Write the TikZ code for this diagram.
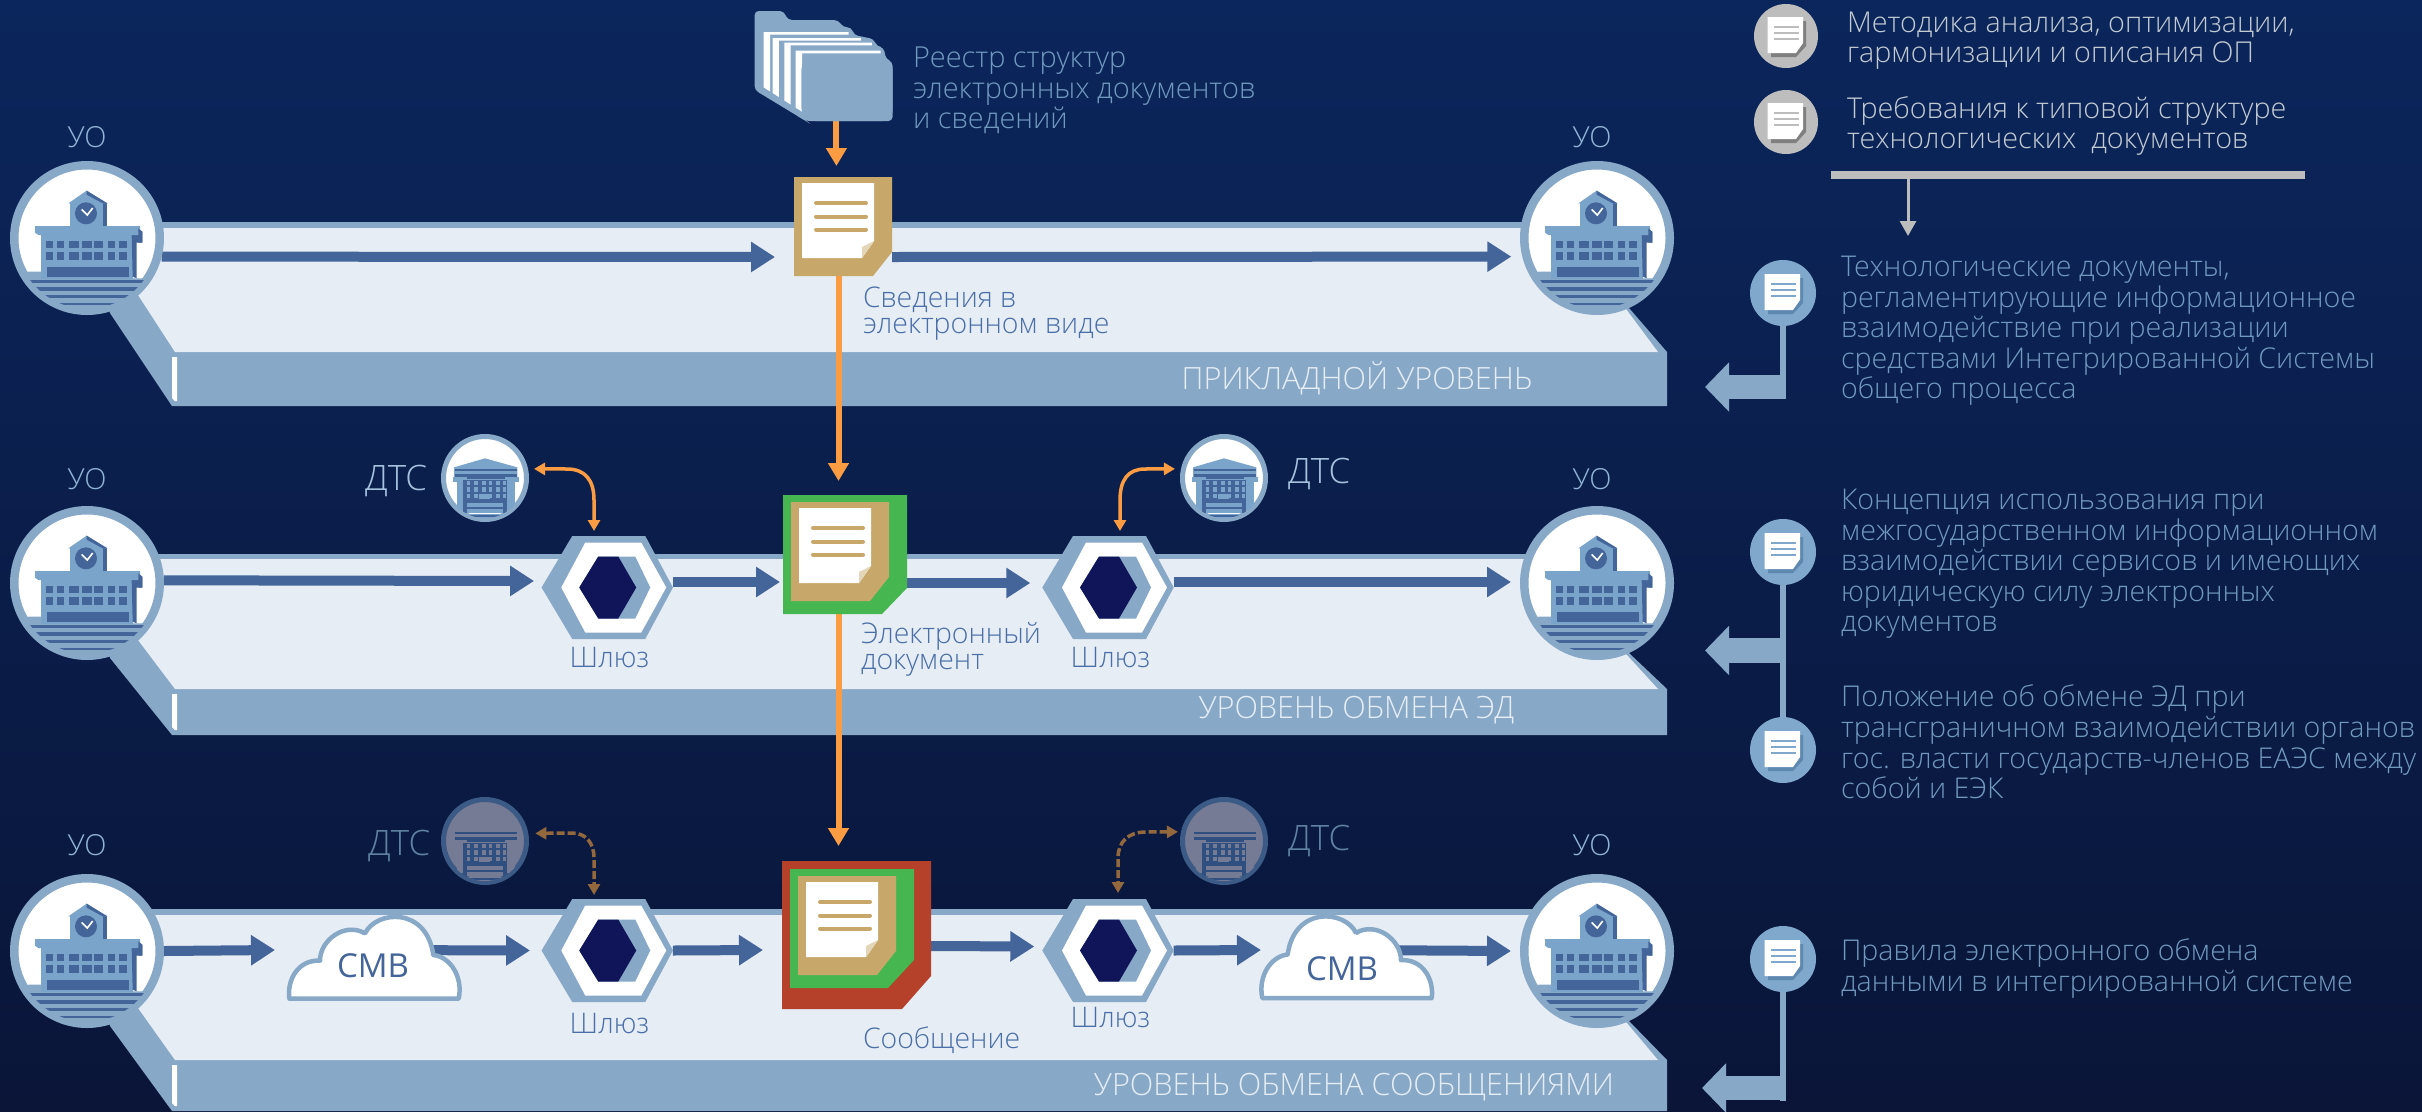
\documentclass[tikz,border=0pt]{standalone}
\usepackage{fontspec}
\setmainfont{Open Sans Light}
\newfontfamily\regfont{Open Sans}
\usetikzlibrary{arrows.meta,calc}
\pgfdeclarelayer{plat}
\pgfdeclarelayer{conn}
\pgfsetlayers{plat,conn,main}
\definecolor{bgtop}{RGB}{11,38,92}
\definecolor{bgmid}{RGB}{11,34,82}
\definecolor{bgbot}{RGB}{10,21,56}
\definecolor{bandc}{HTML}{87A8C7}
\definecolor{lightc}{HTML}{E6EDF4}
\definecolor{medc}{HTML}{7BA4CB}
\definecolor{darkc}{HTML}{44659A}
\definecolor{orangec}{HTML}{FB9C42}
\definecolor{brownc}{HTML}{93683C}
\definecolor{tanc}{HTML}{C7A86A}
\definecolor{foldc}{HTML}{E3D6B8}
\definecolor{greenc}{HTML}{45B650}
\definecolor{redc}{HTML}{B5412A}
\definecolor{hexdark}{HTML}{10155A}
\definecolor{grayc}{HTML}{BDBDBD}
\definecolor{grayd}{HTML}{7F7F7F}
\definecolor{bluec}{HTML}{7FA8CC}
\definecolor{blued}{HTML}{5E88B0}
\definecolor{labelc}{HTML}{4A6FA8}
\definecolor{uoc}{HTML}{8FB4D4}
\definecolor{colc}{HTML}{7099BE}
\definecolor{topc}{HTML}{C3CBD2}
\definecolor{dtsdimring}{HTML}{3B5A85}
\definecolor{dtsdimfill}{HTML}{757A95}
\definecolor{dtsdimbody}{HTML}{2F4F80}
\tikzset{
  x=1pt,y=-1pt,
  txt/.style={inner sep=0,outer sep=0,align=left},
  coltext/.style={txt,anchor=north west,text=colc,font=\fontsize{28.6}{30.6}\selectfont},
  toptext/.style={txt,anchor=north west,text=topc,font=\fontsize{28.7}{30}\selectfont},
  lab/.style={txt,text=labelc,font=\fontsize{28.4}{26}\selectfont},
  uolab/.style={txt,anchor=base,text=uoc,font=\fontsize{29}{30}\selectfont},
  bandlab/.style={txt,anchor=base,text=lightc,font=\fontsize{30.7}{30}\selectfont},
  dtslab/.style={txt,anchor=base west,font=\fontsize{35}{36}\selectfont},
  orgnode/.style={circle,draw=bandc,fill=white,line width=8.5pt,minimum size=145.5pt,inner sep=0},
  dtsnode/.style={circle,draw=bandc,fill=white,line width=5pt,minimum size=83pt,inner sep=0},
  dtsdim/.style={circle,draw=dtsdimring,fill=dtsdimfill,line width=5pt,minimum size=83pt,inner sep=0},
  boxnode/.style={inner sep=0,outer sep=0},
  gatebox/.style={boxnode,minimum width=131.4pt,minimum height=103pt},
  flow/.style={draw=darkc,line width=10pt,-{Triangle[length=24pt,width=29pt]}},
  orangeflow/.style={draw=orangec,line width=6pt,-{Triangle[length=18pt,width=20pt]}},
  linkb/.style={draw=orangec,line width=3.5pt,{Triangle[length=11pt,width=12pt]}-{Triangle[length=11pt,width=12pt]}},
  linkd/.style={draw=brownc,line width=3.5pt,dash pattern=on 8pt off 3pt,{Triangle[length=11pt,width=12pt]}-{Triangle[length=11pt,width=12pt]}},
  graycirc/.style={circle,fill=grayc,minimum size=64pt,inner sep=0,outer sep=0},
  bluecirc/.style={circle,fill=bluec,minimum size=66pt,inner sep=0,outer sep=0},
  stem/.style={draw=bandc,line width=5.5pt},
  blockarr/.style={draw=bandc,line width=24.5pt,-{Triangle[length=24pt,width=48pt]}},
}
\newcommand{\platformshape}[5]{% cy rimtop rimbot bandtop bandbot
  \fill[bandc] (87,#2) -- (1597,#2) -- (1629,{#1+70}) -- (1667,#4) -- (1667,#5) -- (172,#5) -- (110,{#1+75}) -- cycle;
  \fill[lightc] (100,#3) -- (1597,#3) -- (1626,{#1+71}) -- (1658,#4) -- (175,#4) -- (138,{#1+57}) -- cycle;
  \fill[white] (172,{#4+5}) -- (177,{#4+5}) -- (177,{#5-5}) -- (175,{#5-5}) -- (172,{#5-8}) -- cycle;
}
\newcommand{\orgicon}[1]{%
  \begin{scope}[shift={(#1)},scale=0.33333,shift={(-201,-174)}]
    \clip (201,174) circle [radius=212pt];
    \fill[bandc] (25,275) -- (70,275) -- (70,295) -- (400,295) -- (400,420) -- (0,420) -- (0,295) -- cycle;
    \foreach \yy/\hh in {300/10,322/10,345/8,368/8}{\fill[darkc] (30,\yy) rectangle (372,\yy+\hh);}
    \fill[medc] (62,165) rectangle (340,298);
    \fill[darkc] (335,165) -- (355,165) -- (367,155) -- (367,188) -- (350,188) -- (350,295) -- (338,290) -- cycle;
    \fill[medc] (45,138) -- (360,138) -- (360,165) -- (55,165) -- (45,158) -- cycle;
    \fill[darkc] (355,145) -- (367,155) -- (367,188) -- (355,188) -- cycle;
    \fill[medc] (150,70) rectangle (250,138);
    \fill[darkc] (248,70) rectangle (262,138);
    \fill[medc] (145,70) -- (200,32) -- (262,70) -- cycle;
    \fill[darkc] (200,32) -- (262,70) -- (248,70) -- (200,44) -- cycle;
    \fill[darkc] (198,100) circle [radius=33pt];
    \draw[white,line width=1.6pt] (185,88) -- (202,105) -- (218,84);
    \foreach \yy in {183,217}{\foreach \xa/\xb in {78/100,112/132,148/178,186/216,222/248,263/285,298/322}{\fill[darkc] (\xa,\yy) rectangle (\xb,\yy+22);}}
    \fill[darkc] (80,260) rectangle (328,290);
  \end{scope}}
\newcommand{\dtsicon}[3]{% node, body, detail-contrast
  \begin{scope}[shift={(#1)},scale=0.33333,shift={(-135,-144)}]
    \clip (135,144) circle [radius=120pt];
    \fill[#2] (135,85) -- (232,112) -- (232,150) -- (42,150) -- (42,112) -- cycle;
    \fill[#3] (45,118) rectangle (232,124);
    \fill[#3] (45,132) rectangle (232,148);
    \fill[#2] (40,140) rectangle (80,155);
    \fill[#2] (195,140) rectangle (236,155);
    \fill[#2] (50,155) rectangle (72,240);
    \fill[#2] (200,155) rectangle (226,240);
    \fill[#3] (70,150) rectangle (202,250);
    \foreach \yy in {152,172,192}{\foreach \xx in {80,103,126,146,168,188}{\fill[#2] (\xx,\yy) rectangle (\xx+11,\yy+13);}}
    \fill[#2] (118,192) rectangle (150,207);
    \fill[#2] (82,218) rectangle (190,232);
    \fill[#2] (82,237) rectangle (190,248);
    \fill[#2] (40,252) rectangle (235,300);
    \fill[#3] (60,256) rectangle (210,262);
  \end{scope}}
\newcommand{\cloudshape}[2]{% node, xscale
  \begin{scope}[shift={(#1)},xscale=#2,yscale=0.33333,shift={(-312,-172.5)}]
    \draw[draw=bandc,fill=white,line width=4.5pt,line join=round]
      (58,296) .. controls (50,240) and (85,178) .. (150,182)
      .. controls (150,120) and (225,65) .. (285,100)
      .. controls (320,30) and (470,20) .. (490,165)
      .. controls (540,170) and (580,230) .. (566,296) -- cycle;
  \end{scope}}
\newcommand{\gatehex}[1]{%
  \begin{scope}[shift={(#1)}]
    \fill[bandc] (-65.7,0) -- (-35,-51.5) -- (38,-51.5) -- (65.7,0) -- (38,51.5) -- (-35,51.5) -- cycle;
    \fill[white] (-46,0) -- (-22,-45) -- (34,-45) -- (59,0) -- (34,45) -- (-22,45) -- cycle;
    \fill[bandc] (-28,0) -- (-9,-31) -- (28,-31) -- (43,0) -- (28,31) -- (-9,31) -- cycle;
    \fill[hexdark] (-28,0) -- (-9,-31) -- (11,-31) -- (29,0) -- (11,31) -- (-9,31) -- cycle;
  \end{scope}}
\newcommand{\docpage}[2]{% x0 y0 top-left of tan
  \begin{scope}[shift={(#1,#2)}]
    \fill[tanc] (0,0) -- (98,0) -- (98,75) -- (79,99) -- (0,99) -- cycle;
    \fill[white] (8,6) -- (80,6) -- (80,64) -- (68,81) -- (8,81) -- cycle;
    \fill[foldc] (80,64) -- (68,81) -- (68,70) -- cycle;
    \foreach \yy in {26,39.5,52.5}{\draw[tanc,line width=4pt,line cap=round] (22,\yy) -- (72,\yy);}
  \end{scope}}
\newcommand{\smallpage}[3]{% node, shadow, lines
  \begin{scope}[shift={(#1)}]
    \fill[#2] (-15,-15) -- (20,-15) -- (20,10) -- (10,21) -- (-15,21) -- cycle;
    \fill[white] (-18.5,-19) -- (17,-19) -- (17,7) -- (10,17) -- (-18.5,17) -- cycle;
    \foreach \yy in {-9,-3,3}{\draw[#3,line width=2.5pt] (-12,\yy) -- (13,\yy);}
  \end{scope}}
\begin{document}
\begin{tikzpicture}
\useasboundingbox (0,0) rectangle (2422,1111);
\begin{pgfonlayer}{plat}
  \shade[top color=bgtop,middle color=bgmid,bottom color=bgbot] (0,0) rectangle (2422,1111);
  \platformshape{238}{222}{228}{352}{406}
  \platformshape{583}{554}{559}{689}{735}
  \platformshape{951}{909}{915}{1060}{1111}
\end{pgfonlayer}

% folder
\begin{scope}[shift={(720,0)},xscale=0.35714,yscale=0.33333]
  \fill[bandc,rounded corners=4pt] (97,33) -- (178,33) -- (190,60) -- (330,60) -- (345,82) -- (368,82) -- (375,105) -- (430,117) -- (440,140) -- (458,142) -- (465,178) -- (483,185) -- (483,363) -- (240,363) -- (97,270) -- cycle;
  \foreach \xx/\yy/\xr in {122/96/360,147/114/395,180/128/425,212/152/450}{
    \fill[white] (\xx,\yy) -- (\xr,\yy) -- (\xr,\yy+8) -- (\xx+18,\yy+8) -- ({\xx+18},{262+(\xx+18-122)*0.68}) -- ({\xx},{262+(\xx-122)*0.68}) -- cycle;}
  \fill[bandc,rounded corners=10pt] (228,178) -- (483,178) -- (483,363) -- (240,363) -- (228,355) -- cycle;
\end{scope}
\node[boxnode,minimum width=137pt,minimum height=110pt] (folder) at (824,66) {};

% document nodes
\docpage{794}{177}
\node[boxnode,minimum width=98pt,minimum height=99pt] (doc1) at (843,226.5) {};
\fill[greenc] (783,495) -- (907,495) -- (907,588) -- (882,614) -- (783,614) -- cycle;
\docpage{791}{502}
\node[boxnode,minimum width=124pt,minimum height=119pt] (doc2) at (845,554.5) {};
\fill[redc] (782,861) -- (931,861) -- (931,976) -- (902,1009) -- (782,1009) -- cycle;
\fill[greenc] (790,869) -- (914,869) -- (914,960) -- (888,988) -- (790,988) -- cycle;
\docpage{798}{876}
\node[boxnode,minimum width=149pt,minimum height=148pt] (doc3) at (856.5,935) {};

% org nodes
\foreach \nm/\xx/\yy in {uoLa/87/238,uoRa/1597/238,uoLb/87/583,uoRb/1597/583,uoLc/87/951,uoRc/1597/951}{
  \node[orgnode] (\nm) at (\xx,\yy) {};
  \orgicon{\nm}
}
% dts nodes
\node[dtsnode] (dtsba) at (485,478) {}; \dtsicon{dtsba}{medc}{darkc}
\node[dtsnode] (dtsbb) at (1224,478) {}; \dtsicon{dtsbb}{medc}{darkc}
\node[dtsdim] (dtsca) at (485,841) {}; \dtsicon{dtsca}{dtsdimfill}{dtsdimbody}
\node[dtsdim] (dtscb) at (1224,841) {}; \dtsicon{dtscb}{dtsdimfill}{dtsdimbody}

% gateways
\foreach \nm/\xx/\yy in {gba/607.25/587.5,gbb/1108/587.5,gca/607.25/950.5,gcb/1108/950.5}{
  \node[gatebox] (\nm) at (\xx,\yy) {};
  \gatehex{\nm}
}
% clouds
\node[boxnode,minimum width=172pt,minimum height=85pt] (cloudA) at (374,957.5) {};
\cloudshape{cloudA}{0.33333}
\node[boxnode,minimum width=172pt,minimum height=87pt] (cloudB) at (1347,957) {};
\cloudshape{cloudB}{-0.33333}
\node[txt,anchor=base,text=darkc,font=\regfont\fontsize{33}{33}\selectfont] (cmvA) at (373,977) {СМВ};
\node[txt,anchor=base,text=darkc,font=\regfont\fontsize{33}{33}\selectfont] (cmvB) at (1342,980) {СМВ};

% connectors
\coordinate (tipA) at (836.4,166);
\coordinate (tipB) at (838.5,481);
\coordinate (tipC) at (838.5,846);
\coordinate (barTip) at (1908,236);
\begin{pgfonlayer}{conn}
  \draw[orangeflow] (tipA |- folder.south) -- (tipA);
  \draw[orangeflow] (tipB |- doc1.south) -- (tipB);
  \draw[orangeflow] (tipC |- doc2.south) -- (tipC);
  % level 1
  \draw[flow] (uoLa.-14) -- ([xshift=-19pt,yshift=-30.5pt]doc1.west);
  \draw[flow] ([yshift=-30.5pt]doc1.east) -- ([xshift=-11pt]uoRa.194);
  % level 2
  \draw[flow] (uoLb.2) -- ([xshift=-7.5pt,yshift=6.5pt]gba.west);
  \draw[flow] ([yshift=5.5pt]gba.east) -- ([xshift=-3pt,yshift=-27.5pt]doc2.west);
  \draw[flow] ([yshift=-28.5pt]doc2.east) -- ([xshift=-12pt,yshift=4.5pt]gbb.west);
  \draw[flow] ([yshift=5.5pt]gbb.east) -- ([xshift=-9pt,yshift=1pt]uoRb.west);
  % level 3
  \draw[flow] (uoLc.east) -- ([xshift=-13pt,yshift=1pt]cloudA.west |- uoLc.east);
  \draw[flow] ([yshift=7.5pt]cloudA.center) -- ([xshift=-11.5pt]gca.west);
  \draw[flow] (gca.east) -- ([xshift=-19pt,yshift=-15pt]doc3.west);
  \draw[flow] ([yshift=-11pt]doc3.east) -- ([xshift=-8pt,yshift=4pt]gcb.west);
  \draw[flow] (gcb.east) -- ([yshift=7pt]cloudB.west);
  \draw[flow] ([yshift=7pt]cloudB.center) -- ([xshift=-9pt]uoRc.west);
  % DTS links
  \draw[linkb] ([xshift=6pt]dtsba.12) -- (567,469) .. controls (585,469) and (594,480) .. (594,500) -- ([xshift=-13.25pt,yshift=5pt]gba.north);
  \draw[linkb] ([xshift=-6pt]dtsbb.168) -- (1145,469) .. controls (1128,469) and (1120,480) .. (1120,500) -- ([xshift=12pt,yshift=5pt]gbb.north);
  \draw[linkd] ([xshift=7pt]dtsca.10.5) -- (572,833) .. controls (585,833) and (594,842) .. (594,858) -- ([xshift=-13.25pt,yshift=4pt]gca.north);
  \draw[linkd] ([xshift=-3pt]dtscb.168) -- (1146,832) .. controls (1128,832) and (1118,842) .. (1118,858) -- ([xshift=10pt,yshift=6pt]gcb.north);
\end{pgfonlayer}

% labels
\node[coltext,font=\fontsize{28.9}{30.6}\selectfont] (reestr) at (913,47) {Реестр структур\\электронных документов\\и сведений};
\node[lab,anchor=north west] (sved) at (863,287) {Сведения в\\электронном виде};
\node[lab,anchor=north west] (elec) at (861,622) {Электронный\\документ};
\node[lab,anchor=base west] (soob) at (863,1048) {Сообщение};
\node[lab,anchor=base] (shba) at (609.5,667) {Шлюз};
\node[lab,anchor=base] (shbb) at (1110.5,667) {Шлюз};
\node[lab,anchor=base] (shca) at (609.5,1033) {Шлюз};
\node[lab,anchor=base] (shcb) at (1110.5,1027) {Шлюз};
\node[uolab] (uola) at (87,147) {УО};
\node[uolab] (uora) at (1592,147) {УО};
\node[uolab] (uolb) at (87,489) {УО};
\node[uolab] (uorb) at (1592,489) {УО};
\node[uolab] (uolc) at (87,855) {УО};
\node[uolab] (uorc) at (1592,855) {УО};
\node[dtslab,text=uoc!80!white] (dlb) at (365,490) {ДТС};
\node[dtslab,text=uoc!80!white] (drb) at (1288,483) {ДТС};
\node[dtslab,text=colc!85!black] (dlc) at (368,855) {ДТС};
\node[dtslab,text=colc!85!black] (drc) at (1288,850) {ДТС};
\node[bandlab] (banda) at (1357,389) {ПРИКЛАДНОЙ УРОВЕНЬ};
\node[bandlab] (bandb) at (1356.5,718) {УРОВЕНЬ ОБМЕНА ЭД};
\node[bandlab] (bandtc) at (1354,1095) {УРОВЕНЬ ОБМЕНА СООБЩЕНИЯМИ};

% right column
\node[graycirc] (gr1) at (1786,36) {}; \smallpage{gr1}{grayd}{grayc}
\node[graycirc] (gr2) at (1786,122) {}; \smallpage{gr2}{grayd}{grayc}
\node[toptext] (t1) at (1847,12) {Методика анализа, оптимизации,\\гармонизации и описания ОП};
\node[toptext] (t2) at (1847,97) {Требования к типовой структуре\\технологических\ \ документов};
\node[boxnode,fill=grayc,minimum width=474pt,minimum height=8pt] (bar) at (2068,175) {};
\draw[draw=grayc,line width=3pt,-{Triangle[length=15pt,width=16pt]}] (barTip |- bar.south) -- (barTip);

\coordinate (stemA) at (1783,399);
\coordinate (stemC) at (1783,1101);
\coordinate (baAs) at (1786,387);
\coordinate (baAt) at (1705,387);
\coordinate (baBs) at (1786,650.5);
\coordinate (baBt) at (1705,650.5);
\coordinate (baCs) at (1786,1088);
\coordinate (baCt) at (1702,1088);
\node[bluecirc] (blA) at (1783,293) {};
\node[bluecirc] (blB) at (1783,552) {};
\node[bluecirc] (blC) at (1783,750) {};
\node[bluecirc] (blD) at (1783,959) {};
\begin{pgfonlayer}{conn}
  \draw[stem] (blA) -- (stemA);
  \draw[stem] (blB) -- (blC);
  \draw[stem] (blD) -- (stemC);
  \draw[blockarr] (baAs) -- (baAt);
  \draw[blockarr] (baBs) -- (baBt);
  \draw[blockarr] (baCs) -- (baCt);
\end{pgfonlayer}
\smallpage{blA}{blued}{bluec}
\smallpage{blB}{blued}{bluec}
\smallpage{blC}{blued}{bluec}
\smallpage{blD}{blued}{bluec}
\node[coltext] (ca) at (1841,256) {Технологические документы,\\регламентирующие информационное\\взаимодействие при реализации\\средствами Интегрированной Системы\\общего процесса};
\node[coltext] (cb) at (1841,489) {Концепция использования при\\межгосударственном информационном\\взаимодействии сервисов и имеющих\\юридическую силу электронных\\документов};
\node[coltext] (cc) at (1841,685) {Положение об обмене ЭД при\\трансграничном взаимодействии органов\\гос. власти государств-членов ЕАЭС между\\собой и ЕЭК};
\node[coltext] (cd) at (1841,939) {Правила электронного обмена\\данными в интегрированной системе};
\end{tikzpicture}
\end{document}
